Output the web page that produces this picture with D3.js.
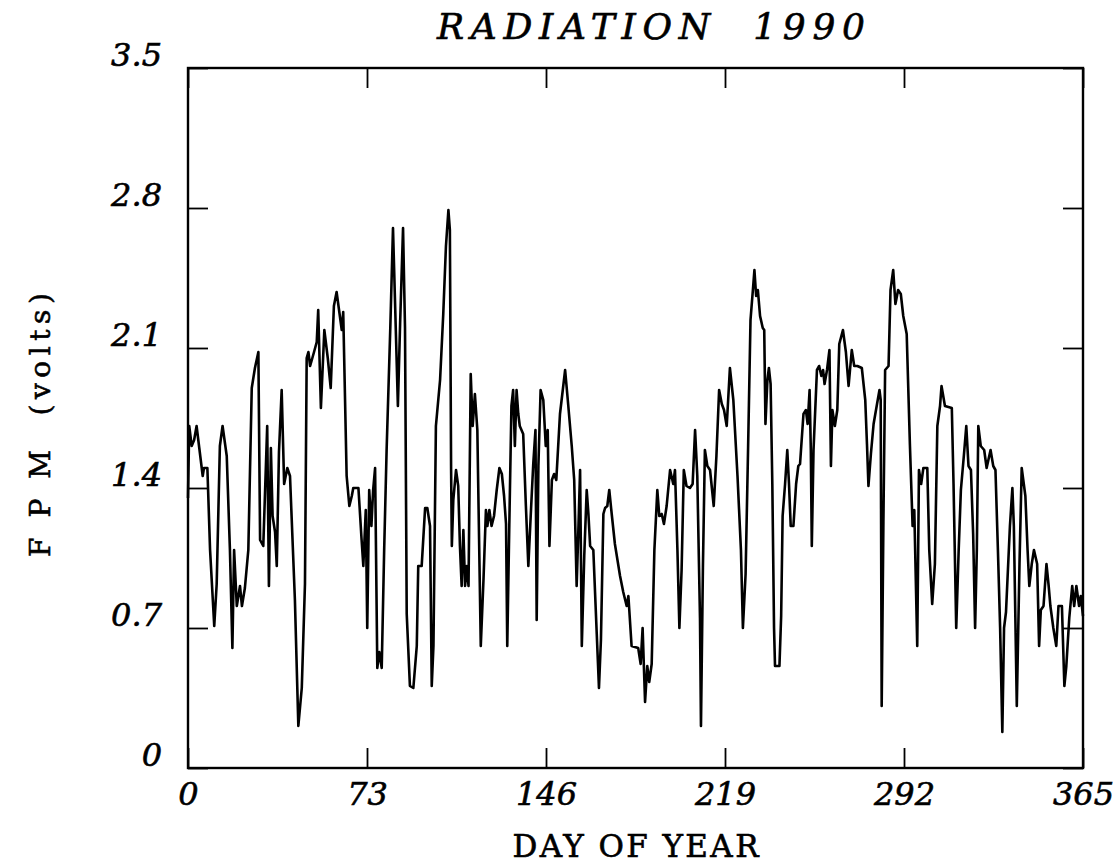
<!DOCTYPE html>
<html>
<head>
<meta charset="utf-8">
<script src="https://cdn.jsdelivr.net/npm/d3@7"></script>
<style>
	body { margin: 0; background: #fff; }
	text { font-family: 'DejaVu Serif', serif; fill: #000; stroke: #000; stroke-width: 0.6px; }
</style>
</head>
<body>
<svg></svg>
<script>
const width = 1118;
const height = 864;

const xTicks = [0, 73, 146, 219, 292, 365];
const yTicks = [0, 0.7, 1.4, 2.1, 2.8, 3.5];

const days = [
	0, 0.5, 1.5, 2.5, 3.5, 4.6, 6, 6.5, 7.9, 9, 10.7, 11.7, 13, 14.1, 15.8, 17.1, 18.1, 18.8, 19.9, 21.2,
	22, 23.2, 24.6, 26, 27.3, 28.7, 29.4, 30.7, 32.3, 33, 33.8, 34.5, 35.5, 36.2, 37.1, 38.2, 39.2, 40.5, 41.6, 43.6,
	45, 46.4, 47.7, 48.4, 49.1, 49.8, 51.4, 52.5, 53.1, 54.2, 55.6, 57, 58.2, 59.5, 60.6, 61.6, 62.7, 63.3, 64.7, 65.8,
	66.8, 67.4, 69.5, 70.8, 71.5, 72.5, 73.1, 73.9, 74.8, 75.5, 76.3, 77.2, 78, 79, 80, 81, 82.5, 83.6, 84.5, 85.6,
	86.5, 87.7, 88.5, 89.2, 90.5, 91.9, 93.3, 93.9, 95.3, 96.7, 97.6, 98.7, 99.4, 100.1, 101.1, 102.8, 104.1, 105.2, 106.2, 106.8,
	107.3, 107.6, 108.2, 109.3, 110.2, 110.9, 111.6, 112.3, 113, 113.7, 114.4, 115.3, 116.1, 117, 118, 119.4, 120.5, 121.5, 122.1, 122.9,
	123.8, 124.8, 125.9, 127, 128, 128.9, 129.7, 130.2, 131, 131.9, 132.6, 133.3, 134, 134.7, 135.3, 136.7, 137.8, 138.8, 139.8, 140.8,
	141.7, 142.2, 142.9, 143.8, 144.9, 145.9, 146.7, 147.4, 148.4, 149.3, 150.2, 151.7, 153.8, 155.1, 156.5, 157.5, 158.5, 159.2, 159.9, 160.6,
	161.6, 162.6, 163.3, 164, 165.3, 166.7, 167.6, 168.4, 169.4, 170.1, 171, 171.8, 172.8, 174.1, 176.2, 177.5, 178.9, 179.6, 180.9, 183.6,
	184.6, 185.4, 186.4, 187.3, 188.1, 189.1, 190.2, 191.4, 192.2, 193.2, 194.1, 195.2, 196.6, 197.9, 198.6, 199.6, 200.4, 201.3, 202.2, 203.3,
	204.7, 205.8, 206.8, 207.7, 208.8, 209.2, 210, 210.8, 211.8, 212.9, 214.4, 215.5, 216.6, 217.7, 218.6, 219.7, 221, 222.4, 224.1, 225.5,
	226.3, 227.4, 228.4, 229.4, 230.5, 231, 231.7, 232.4, 233.3, 234.4, 235, 235.5, 236.3, 236.9, 237.6, 238.3, 239, 239.4, 241.2, 241.9,
	242.5, 243.5, 244.4, 245.1, 245.8, 246.9, 248, 248.9, 249.6, 251, 252, 252.7, 253.5, 254, 254.4, 255.1, 256.5, 257.4, 258.3, 259,
	259.6, 260.6, 261.6, 262.2, 262.8, 263.8, 264.8, 265.6, 267.1, 268.3, 269.4, 270.7, 271.7, 273, 274.8, 276.2, 276.9, 277.5, 278.5, 279.6,
	281, 282, 282.5, 282.9, 283.6, 284.3, 285.7, 286.5, 287.6, 288.5, 289.6, 290.7, 291.7, 293.1, 294.4, 295.5, 296.2, 296.9, 297.4, 298.1,
	299, 299.9, 301.5, 302.3, 303.5, 304.6, 305.6, 306.7, 307.3, 308.7, 311.5, 312.2, 313.3, 314.3, 315.2, 316.4, 317.4, 318.3, 319.3, 320.2,
	321, 321.7, 322.3, 323.3, 324.7, 325.7, 327.3, 328.4, 329.3, 330.3, 331.2, 332.1, 332.8, 333.6, 335.2, 336.2, 336.8, 338, 339.1, 340,
	341.5, 342.4, 343.1, 344.1, 345, 346.3, 347.1, 347.8, 348.9, 350.1, 351, 351.7, 352.9, 354.1, 355, 356.4, 357.4, 358.2, 359.4, 360.6,
	361.4, 362.3, 363.4, 364.1, 365
];
const fpm = [
	1.35, 1.71, 1.61, 1.64, 1.71, 1.60, 1.46, 1.50, 1.50, 1.09, 0.71, 0.92, 1.61, 1.71, 1.56, 1.09, 0.60, 1.09, 0.81, 0.91,
	0.81, 0.90, 1.09, 1.90, 2.00, 2.08, 1.14, 1.11, 1.71, 0.91, 1.60, 1.26, 1.18, 1.01, 1.58, 1.89, 1.42, 1.50, 1.46, 0.84,
	0.21, 0.40, 0.92, 2.05, 2.08, 2.01, 2.08, 2.13, 2.29, 1.80, 2.19, 2.05, 1.90, 2.31, 2.38, 2.29, 2.19, 2.28, 1.46, 1.31,
	1.36, 1.40, 1.40, 1.14, 1.01, 1.29, 0.70, 1.39, 1.21, 1.39, 1.50, 0.50, 0.58, 0.50, 1.09, 1.59, 2.20, 2.70, 2.30, 1.81,
	2.22, 2.70, 2.20, 0.77, 0.41, 0.40, 0.61, 1.01, 1.01, 1.30, 1.30, 1.21, 0.41, 0.61, 1.71, 1.94, 2.27, 2.61, 2.79, 2.69,
	1.49, 1.11, 1.34, 1.49, 1.41, 1.11, 0.91, 1.19, 0.91, 1.01, 0.91, 1.97, 1.71, 1.87, 1.69, 0.61, 0.94, 1.29, 1.21, 1.29,
	1.21, 1.26, 1.39, 1.50, 1.47, 1.36, 1.22, 0.61, 1.19, 1.81, 1.89, 1.61, 1.89, 1.77, 1.71, 1.67, 1.31, 1.01, 1.27, 1.52,
	1.69, 0.74, 1.51, 1.89, 1.84, 1.61, 1.69, 1.11, 1.44, 1.47, 1.44, 1.77, 1.99, 1.81, 1.61, 1.44, 0.91, 1.19, 1.49, 0.61,
	1.06, 1.39, 1.27, 1.11, 1.09, 0.67, 0.40, 0.64, 1.27, 1.30, 1.31, 1.39, 1.27, 1.12, 0.96, 0.88, 0.81, 0.86, 0.61, 0.60,
	0.52, 0.70, 0.33, 0.51, 0.43, 0.52, 1.09, 1.39, 1.26, 1.27, 1.22, 1.31, 1.49, 1.42, 1.49, 1.09, 0.70, 0.99, 1.49, 1.41,
	1.40, 1.42, 1.69, 1.46, 0.75, 0.21, 1.01, 1.59, 1.51, 1.49, 1.31, 1.56, 1.89, 1.82, 1.79, 1.71, 2.00, 1.84, 1.46, 1.09,
	0.70, 0.97, 1.59, 2.24, 2.41, 2.49, 2.36, 2.39, 2.26, 2.20, 2.19, 1.72, 1.94, 2.00, 1.92, 1.42, 0.70, 0.51, 0.51, 0.76,
	1.26, 1.42, 1.59, 1.42, 1.21, 1.21, 1.42, 1.51, 1.52, 1.77, 1.79, 1.72, 1.89, 1.59, 1.11, 1.59, 1.99, 2.01, 1.96, 1.99,
	1.92, 1.99, 2.09, 1.51, 1.79, 1.71, 1.79, 2.12, 2.19, 2.08, 1.91, 2.09, 2.01, 2.01, 2.00, 1.84, 1.62, 1.41, 1.57, 1.72,
	1.82, 1.89, 1.84, 0.31, 1.23, 1.99, 2.01, 2.39, 2.49, 2.32, 2.39, 2.37, 2.26, 2.17, 1.62, 1.21, 1.29, 0.89, 0.61, 1.49,
	1.42, 1.50, 1.50, 1.09, 0.82, 1.02, 1.71, 1.81, 1.91, 1.81, 1.80, 1.42, 0.70, 1.09, 1.39, 1.56, 1.71, 1.51, 1.49, 1.17,
	0.70, 1.09, 1.71, 1.61, 1.59, 1.50, 1.59, 1.51, 1.49, 1.09, 0.70, 0.18, 0.70, 0.78, 1.21, 1.40, 1.21, 0.31, 1.02, 1.50,
	1.36, 1.09, 0.91, 1.02, 1.09, 1.02, 0.61, 0.79, 0.81, 1.02, 0.91, 0.81, 0.70, 0.61, 0.81, 0.81, 0.41, 0.51, 0.75, 0.91,
	0.81, 0.91, 0.81, 0.86, 0.76
];

const margin = { top: 68, right: 35, bottom: 96, left: 188 };
const plotW = width - margin.left - margin.right;
const plotH = height - margin.top - margin.bottom;

const svg = d3.select('svg')
	.attr('width', width)
	.attr('height', height);

const x = d3.scaleLinear().domain([0, 365]).range([0, plotW]);
const y = d3.scaleLinear().domain([0, 3.5]).range([plotH, 0]);

const g = svg.append('g')
	.attr('transform', `translate(${margin.left},${margin.top})`);

// ticks point inward on all four sides
const bottomAxis = g.append('g')
	.attr('transform', `translate(0,${plotH})`)
	.call(d3.axisBottom(x).tickValues(xTicks).tickSize(-20).tickPadding(14).tickFormat(d3.format('d')));
const topAxis = g.append('g')
	.call(d3.axisTop(x).tickValues(xTicks).tickSize(-20).tickFormat(''));
const leftAxis = g.append('g')
	.call(d3.axisLeft(y).tickValues(yTicks).tickSize(-20).tickPadding(26).tickFormat(d => d === 0 ? '0' : d3.format('.1f')(d)));
const rightAxis = g.append('g')
	.attr('transform', `translate(${plotW},0)`)
	.call(d3.axisRight(y).tickValues(yTicks).tickSize(-20).tickFormat(''));

g.selectAll('.domain').remove();
g.selectAll('.tick line')
	.attr('stroke', '#000')
	.attr('stroke-width', 1.8);
g.selectAll('.tick text')
	.attr('font-family', 'DejaVu Serif, serif')
	.attr('font-style', 'italic')
	.attr('font-size', 32)
	.attr('fill', '#000');
leftAxis.selectAll('.tick text').attr('dy', '-0.08em');

g.append('rect')
	.attr('width', plotW)
	.attr('height', plotH)
	.attr('fill', 'none')
	.attr('stroke', '#000')
	.attr('stroke-width', 2.4);

const line = d3.line()
	.x((d, i) => x(days[i]))
	.y(d => y(d));

g.append('path')
	.datum(fpm)
	.attr('fill', 'none')
	.attr('stroke', '#000')
	.attr('stroke-width', 2.6)
	.attr('stroke-linejoin', 'round')
	.attr('d', line);

svg.append('text')
	.attr('x', 651)
	.attr('y', 39)
	.attr('text-anchor', 'middle')
	.attr('font-style', 'italic')
	.attr('font-size', 36)
	.attr('textLength', 428)
	.attr('lengthAdjust', 'spacing')
	.style('white-space', 'pre')
	.text('RADIATION  1990');

svg.append('text')
	.attr('x', margin.left + plotW / 2)
	.attr('y', 857)
	.attr('text-anchor', 'middle')
	.attr('font-size', 31)
	.attr('textLength', 246)
	.attr('lengthAdjust', 'spacing')
	.style('white-space', 'pre')
	.text('DAY OF YEAR');

svg.append('text')
	.attr('transform', 'translate(50,425) rotate(-90)')
	.attr('text-anchor', 'middle')
	.attr('font-size', 28)
	.attr('textLength', 264)
	.attr('lengthAdjust', 'spacing')
	.style('white-space', 'pre')
	.text('F P M  (volts)');
</script>
</body>
</html>
